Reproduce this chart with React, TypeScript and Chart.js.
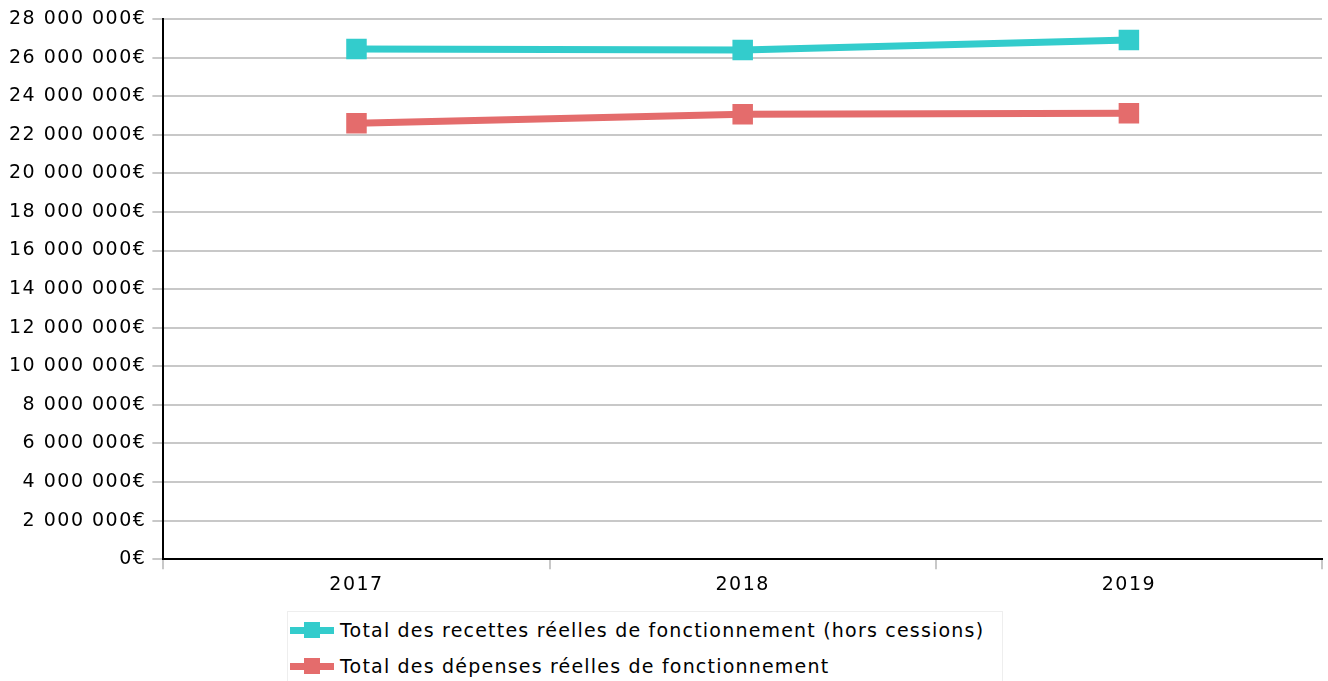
import React, { useEffect, useRef } from "react";
import { Chart, registerables } from "chart.js";

Chart.register(...registerables);

const years = ["2017", "2018", "2019"];
const recettes = [26440000, 26390000, 26910000];
const depenses = [22600000, 23060000, 23120000];
const seriesLabels = [
  "Total des recettes réelles de fonctionnement (hors cessions)",
  "Total des dépenses réelles de fonctionnement",
];
const colors = ["#33cccc", "#e46c6c"];

const fmt = (v: number) =>
  (v === 0 ? "0" : Math.round(v).toString().replace(/\B(?=(\d{3})+(?!\d))/g, " ")) + "€";

const FONT = "'DejaVu Sans', sans-serif";

const spacingPlugin = {
  id: "spacing",
  beforeUpdate(chart: any) {
    chart.ctx.letterSpacing = "1.5px";
  },
  beforeLayout(chart: any) {
    chart.ctx.letterSpacing = "1.5px";
  },
  beforeDraw(chart: any) {
    chart.ctx.letterSpacing = "1.5px";
  },
};

export default function App() {
  const ref = useRef<HTMLCanvasElement | null>(null);
  useEffect(() => {
    document.body.style.margin = "0";
    const ctx = ref.current!;
    const chart = new Chart(ctx, {
      type: "line",
      data: {
        labels: years,
        datasets: [recettes, depenses].map((d, i) => ({
          label: seriesLabels[i],
          data: d,
          borderColor: colors[i],
          backgroundColor: colors[i],
          borderWidth: 7,
          pointStyle: "rect",
          pointRadius: 14.5,
          pointBorderWidth: 0,
          pointHoverRadius: 14.5,
          tension: 0,
        })),
      },
      plugins: [spacingPlugin],
      options: {
        animation: false,
        responsive: false,
        layout: { autoPadding: false, padding: { top: 19, right: 6, left: 3, bottom: 0 } },
        plugins: { legend: { display: false }, tooltip: { enabled: false } },
        scales: {
          x: {
            offset: true,
            grid: {
              offset: true,
              drawOnChartArea: false,
              color: "#c8c8c8",
              lineWidth: 2,
              tickLength: 10,
            },
            border: { color: "#000", width: 2 },
            ticks: { color: "#000", font: { family: FONT, size: 19 }, padding: 4 },
          },
          y: {
            min: 0,
            max: 28000000,
            afterBuildTicks: (axis: any) => {
              const t = [];
              for (let v = 0; v <= 28000000; v += 2000000) t.push({ value: v });
              axis.ticks = t;
            },
            grid: { color: "#c8c8c8", lineWidth: 2, tickLength: 11 },
            border: { color: "#000", width: 2 },
            ticks: {
              color: "#000",
              font: { family: FONT, size: 19 },
              padding: 6,
              callback: (v: any) => fmt(Number(v)),
            },
          },
        },
      },
    });
    return () => chart.destroy();
  }, []);

  return (
    <div style={{ position: "relative", width: 1328, height: 681, overflow: "hidden", background: "#fff" }}>
      <canvas ref={ref} width={1328} height={600} style={{ display: "block" }} />
      <div
        style={{
          position: "absolute",
          left: 287,
          top: 611,
          width: 714,
          height: 90,
          border: "1px solid #eeeeee",
          fontFamily: FONT,
          fontSize: 19,
          letterSpacing: "1.2px",
          color: "#000",
        }}
      >
        {seriesLabels.map((l, i) => (
          <div key={i} style={{ position: "absolute", left: 0, top: 6 + i * 36, height: 24, display: "flex", alignItems: "center" }}>
            <div style={{ position: "relative", width: 44, height: 24, marginLeft: 2, marginRight: 6 }}>
              <div style={{ position: "absolute", left: 0, right: 0, top: 8.5, height: 7, background: colors[i] }} />
              <div style={{ position: "absolute", left: 14, top: 4, width: 16, height: 16, background: colors[i] }} />
            </div>
            <span style={{ whiteSpace: "nowrap" }}>{l}</span>
          </div>
        ))}
      </div>
    </div>
  );
}
